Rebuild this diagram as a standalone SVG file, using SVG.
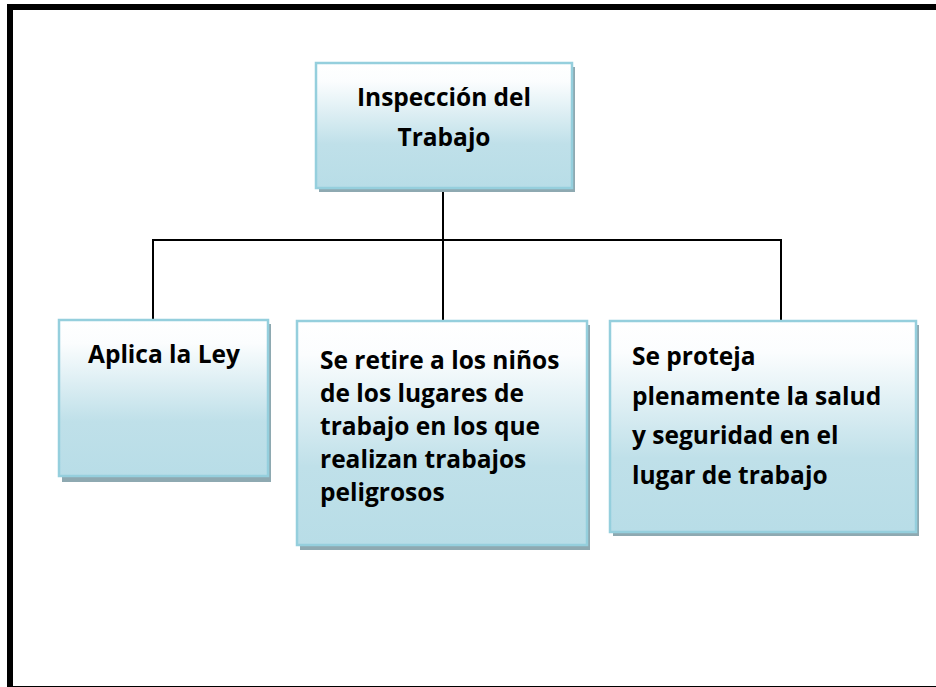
<svg xmlns="http://www.w3.org/2000/svg" width="936" height="687" viewBox="0 0 936 687">
<defs>
<linearGradient id="fill" x1="0" y1="0" x2="0" y2="1">
<stop offset="0" stop-color="#ffffff"/>
<stop offset="0.15" stop-color="#fbfdfe"/>
<stop offset="0.65" stop-color="#bfe0e9"/>
<stop offset="1" stop-color="#b8dde7"/>
</linearGradient>
<style>
.shadow{fill:#8ea9b1}
.box{fill:url(#fill);stroke:#95cfdd;stroke-width:2.5}
.t{font-family:"Open Sans",Lato,"Liberation Sans",sans-serif;font-weight:bold;font-size:24.5px;fill:#000}
.c{text-anchor:middle}
.conn{fill:none;stroke:#000;stroke-width:2}
</style>
</defs>
<rect width="936" height="687" fill="#ffffff"/>
<rect x="10" y="7" width="940" height="682" fill="none" stroke="#000" stroke-width="6"/>
<g id="connectors">
<line class="conn" x1="443" y1="188" x2="443" y2="321"/>
<polyline class="conn" points="153,321 153,240 781,240 781,321"/>
</g>
<g id="n0">
<rect class="shadow" x="319" y="67" width="256" height="125"/>
<rect class="box" x="316" y="63" width="256" height="125"/>
<text class="t c" x="444" y="106">Inspección del</text>
<text class="t c" x="444" y="146">Trabajo</text>
</g>
<g id="n1">
<rect class="shadow" x="62" y="324" width="209" height="158"/>
<rect class="box" x="59" y="320" width="209" height="156"/>
<text class="t c" x="164" y="363">Aplica la Ley</text>
</g>
<g id="n2">
<rect class="shadow" x="300" y="325" width="290" height="225"/>
<rect class="box" x="297" y="321" width="290" height="224"/>
<text class="t" x="320" y="369">Se retire a los niños</text>
<text class="t" x="320" y="402">de los lugares de</text>
<text class="t" x="320" y="435">trabajo en los que</text>
<text class="t" x="320" y="468">realizan trabajos</text>
<text class="t" x="320" y="501">peligrosos</text>
</g>
<g id="n3">
<rect class="shadow" x="613" y="325" width="306" height="211"/>
<rect class="box" x="610" y="321" width="306" height="211"/>
<text class="t" x="632" y="365">Se proteja</text>
<text class="t" x="632" y="405">plenamente la salud</text>
<text class="t" x="632" y="444">y seguridad en el</text>
<text class="t" x="632" y="484">lugar de trabajo</text>
</g>
</svg>
